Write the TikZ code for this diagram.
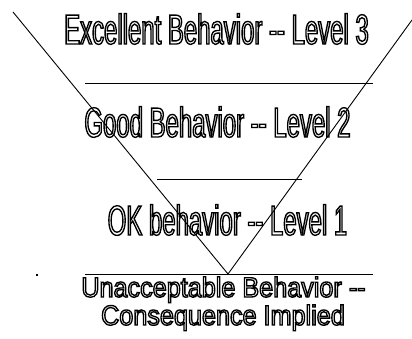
\documentclass[tikz,border=0pt]{standalone}
\usepackage{fontspec}
\setmainfont{Liberation Sans}
\newfontfamily\narrowfont[FakeStretch=0.57]{Liberation Sans}
\newfontfamily\lowfont[FakeStretch=0.9]{Liberation Sans}
\newcommand{\outlinetext}[1]{\special{pdf:code q 1 Tr 1.35 w}#1\special{pdf:code Q}}
\tikzset{
  funnel/.style={line width=0.9pt, black},
  bigtext/.style={anchor=base, inner sep=0pt, font=\narrowfont\fontsize{42}{42}\selectfont},
  smalltext/.style={anchor=base, inner sep=0pt, font=\lowfont\fontsize{28}{28}\selectfont},
}
\begin{document}
\begin{tikzpicture}[x=1pt,y=-1pt]
\useasboundingbox (0,0) rectangle (412,339);
\fill[white] (0,0) rectangle (412,339);
% funnel sides
\coordinate (lt) at (13,12);
\coordinate (rt) at (412,20);
\coordinate (apex) at (228,274);
\draw[funnel] (lt) -- (apex) -- (rt);
% horizontal lines
\coordinate (a1) at (85,83);  \coordinate (b1) at (373,83);
\coordinate (a2) at (157,179); \coordinate (b2) at (302,179);
\coordinate (a3) at (85,274); \coordinate (b3) at (373,274);
\draw[funnel] (a1) -- (b1);
\draw[funnel] (a2) -- (b2);
\draw[funnel] (a3) -- (b3);
% texts
\node[bigtext] (t3) at (216.5,44) {\outlinetext{Excellent Behavior -- Level 3}};
\node[bigtext] (t2) at (217.5,137) {\outlinetext{Good Behavior -- Level 2}};
\node[bigtext] (t1) at (227.5,235) {\outlinetext{OK behavior -- Level 1}};
\node[smalltext] (t0a) at (223.5,297) {\outlinetext{Unacceptable Behavior --}};
\node[smalltext] (t0b) at (223,325) {\outlinetext{Consequence Implied}};
% small dot
\fill (36.3,274.3) rectangle (37.7,275.7);
\end{tikzpicture}
\end{document}
